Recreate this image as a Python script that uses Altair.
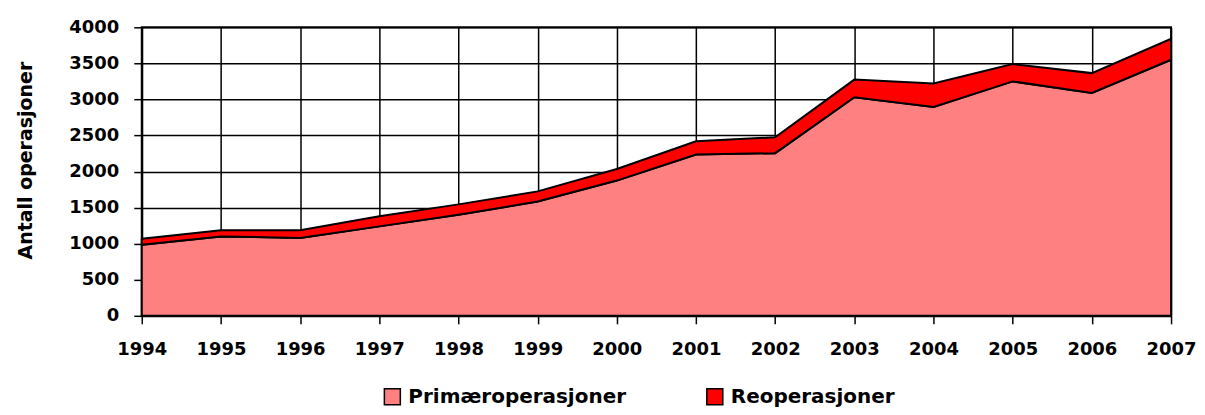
import altair as alt
import pandas as pd

years = [1994, 1995, 1996, 1997, 1998, 1999, 2000, 2001, 2002, 2003, 2004, 2005, 2006, 2007]
primaer = [985, 1100, 1080, 1240, 1400, 1585, 1875, 2235, 2255, 3030, 2895, 3250, 3090, 3550]
reop = [85, 85, 105, 140, 145, 140, 160, 185, 220, 245, 325, 240, 275, 290]
series_names = ["Primæroperasjoner", "Reoperasjoner"]
series_colors = ["#FF8080", "#FF0000"]
y_ticks = [0, 500, 1000, 1500, 2000, 2500, 3000, 3500, 4000]

rows = []
for i, (name, vals) in enumerate(zip(series_names, [primaer, reop])):
    for yr, v in zip(years, vals):
        rows.append({"year": yr, "value": v, "serie": name, "idx": i})
df = pd.DataFrame(rows)

FONT = "DejaVu Sans"

chart = (
    alt.Chart(df)
    .mark_area(stroke="black", strokeWidth=2, strokeJoin="miter", opacity=1)
    .encode(
        x=alt.X(
            "year:Q",
            scale=alt.Scale(domain=[1994, 2007], nice=False, zero=False),
            axis=alt.Axis(
                values=years, format="d", title=None, grid=True,
                labelPadding=17, tickSize=8, labelFlush=False, labelOverlap=False,
            ),
        ),
        y=alt.Y(
            "value:Q",
            stack="zero",
            scale=alt.Scale(domain=[0, 4000], nice=False),
            axis=alt.Axis(
                values=y_ticks, format="d", title="Antall operasjoner", grid=True,
                labelPadding=15, tickSize=8, titlePadding=33, titleY=133,
                labelFlush=False, labelOverlap=False,
            ),
        ),
        color=alt.Color(
            "serie:N",
            scale=alt.Scale(domain=series_names, range=series_colors),
            legend=alt.Legend(
                title=None, orient="none", direction="horizontal",
                legendX=241, legendY=360,
                symbolType="square", symbolSize=256,
                symbolStrokeColor="black", symbolStrokeWidth=1.5,
                labelFontSize=20, labelFont=FONT, labelFontWeight="bold",
                labelColor="black", labelOffset=6, columnPadding=77,
                labelLimit=400,
            ),
        ),
        order=alt.Order("idx:Q", sort="ascending"),
    )
    .properties(width=1031, height=289, padding={"left": 8, "top": 10, "right": 0, "bottom": 0})
    .configure_view(stroke="black", strokeWidth=2)
    .configure_axis(
        labelFont=FONT, labelFontSize=18, labelFontWeight="bold", labelColor="black",
        titleFont=FONT, titleFontSize=19, titleFontWeight="bold", titleColor="black",
        gridColor="black", gridWidth=1.5, gridOpacity=1,
        domainColor="black", domainWidth=2, tickColor="black", tickWidth=1.5,
    )
)

chart.save("out.html", embed_options={"renderer": "svg", "actions": False})
